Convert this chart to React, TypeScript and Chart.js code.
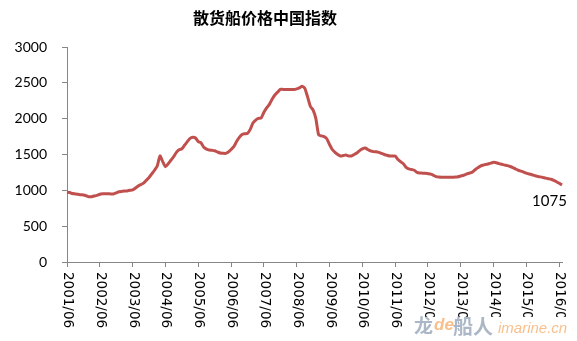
import React, { useEffect, useRef } from "react";
import { Chart, registerables } from "chart.js";

Chart.register(...registerables);

const chartTitle = "散货船价格中国指数";
const startYear = 2001;
const startMonth = 6;

// Monthly index values, 2001/06 .. 2016/07
const priceIndex = [
  975, 970, 955, 950, 945, 938, 935, 925, 910, 912, 920, 930,
  945, 952, 952, 952, 950, 950, 965, 980, 985, 990, 992, 1000,
  1005, 1030, 1060, 1080, 1100, 1140, 1180, 1230, 1280, 1340, 1480, 1400,
  1330, 1370, 1420, 1470, 1530, 1565, 1580, 1630, 1680, 1725, 1740, 1730,
  1680, 1665, 1600, 1575, 1562, 1558, 1552, 1535, 1522, 1518, 1516, 1535,
  1570, 1610, 1680, 1740, 1780, 1790, 1795, 1850, 1940, 1980, 2003, 2010,
  2090, 2150, 2200, 2270, 2330, 2370, 2410, 2408, 2406, 2406, 2406, 2406,
  2415, 2430, 2452, 2420, 2300, 2170, 2120, 2000, 1775, 1760, 1750, 1720,
  1640, 1570, 1530, 1500, 1480, 1485, 1492, 1480, 1480, 1500, 1520, 1555,
  1580, 1590, 1570, 1550, 1540, 1538, 1530, 1515, 1500, 1490, 1478, 1478,
  1478, 1430, 1399, 1370, 1320, 1298, 1290, 1280, 1250, 1242, 1240, 1238,
  1232, 1226, 1210, 1192, 1185, 1182, 1182, 1182, 1182, 1182, 1185, 1190,
  1200, 1210, 1225, 1238, 1250, 1280, 1310, 1335, 1350, 1360, 1367, 1380,
  1391, 1385, 1372, 1363, 1352, 1345, 1333, 1318, 1298, 1280, 1268, 1255,
  1240, 1228, 1218, 1205, 1195, 1188, 1180, 1170, 1162, 1155, 1140, 1120, 1098, 1075,
];

const xTickLabels = [
  "2001/06", "2002/06", "2003/06", "2004/06", "2005/06", "2006/06", "2007/06", "2008/06",
  "2009/06", "2010/06", "2011/06", "2012/06", "2013/06", "2014/06", "2015/06", "2016/06",
];

const yTicks = [0, 500, 1000, 1500, 2000, 2500, 3000];
const lastValueLabel = "1075";

const months: string[] = [];
for (let i = 0; i < priceIndex.length; i++) {
  const m = startMonth - 1 + i;
  const y = startYear + Math.floor(m / 12);
  const mm = (m % 12) + 1;
  months.push(`${y}/${mm < 10 ? "0" + mm : mm}`);
}

const AXIS = "#868686";
const LINE = "#C0504D";

const overlayPlugin = {
  id: "overlay",
  afterDraw(chart: any) {
    const ctx = chart.ctx;
    const xs = chart.scales.x;
    ctx.save();
    // title
    ctx.fillStyle = "#000";
    ctx.font = 'bold 16px "Noto Sans CJK SC"';
    ctx.textAlign = "center";
    ctx.textBaseline = "middle";
    ctx.fillText(chartTitle, 265, 18);

    // x tick labels, rotated clockwise
    ctx.font = '13.5px "DejaVu Sans"';
    xTickLabels.forEach((lab, k) => {
      const x = xs.getPixelForValue(k * 12);
      ctx.save();
      if (k >= 11) {
        ctx.beginPath();
        ctx.rect(0, 0, chart.width, 317);
        ctx.clip();
      }
      ctx.translate(x + 0.5, 272);
      ctx.rotate(Math.PI / 2);
      ctx.textAlign = "left";
      ctx.textBaseline = "middle";
      ctx.fillStyle = "#000";
      ctx.fillText(lab, 0, 0);
      ctx.restore();
    });

    // last value label
    const meta = chart.getDatasetMeta(0);
    const last = meta.data[meta.data.length - 1];
    ctx.font = '15px "Lato"';
    ctx.textAlign = "center";
    ctx.textBaseline = "middle";
    ctx.fillStyle = "#000";
    ctx.fillText(lastValueLabel, last.x - 12.5, last.y + 16.5);

    // watermark
    ctx.textAlign = "left";
    ctx.textBaseline = "middle";
    ctx.fillStyle = "rgba(150,165,185,0.8)";
    ctx.font = 'bold 19px "Noto Sans CJK SC"';
    ctx.fillText("龙", 414, 326);
    ctx.fillStyle = "rgba(247,170,100,0.75)";
    ctx.font = 'italic bold 17px "Liberation Sans"';
    ctx.fillText("de", 434, 325);
    ctx.fillStyle = "rgba(150,165,185,0.8)";
    ctx.font = 'bold 20px "Noto Sans CJK SC"';
    ctx.fillText("船人", 453, 326);
    ctx.fillStyle = "rgba(247,170,100,0.75)";
    ctx.font = 'italic 15px "Liberation Sans"';
    ctx.fillText("imarine.cn", 498, 329);
    ctx.restore();
  },
};

export default function App() {
  const ref = useRef<HTMLCanvasElement | null>(null);
  useEffect(() => {
    if (!ref.current) return;
    const chart = new Chart(ref.current, {
      type: "line",
      data: {
        labels: months,
        datasets: [
          {
            data: priceIndex,
            borderColor: LINE,
            borderWidth: 3,
            pointRadius: 0,
            tension: 0.2,
            fill: false,
          },
        ],
      },
      options: {
        responsive: false,
        animation: false,
        devicePixelRatio: 1,
        layout: { padding: { top: 47, right: 15, left: 0, bottom: 0 } },
        plugins: { legend: { display: false }, title: { display: false }, tooltip: { enabled: false } },
        scales: {
          x: {
            type: "category",
            offset: false,
            afterFit: (s: any) => {
              s.height = 79;
            },
            border: { display: true, color: AXIS, width: 1 },
            grid: {
              display: true,
              drawOnChartArea: false,
              drawTicks: true,
              tickLength: 5,
              color: (c: any) => (c.index % 12 === 0 ? AXIS : "rgba(0,0,0,0)"),
              tickColor: (c: any) => (c.index % 12 === 0 ? AXIS : "rgba(0,0,0,0)"),
            },
            ticks: { display: false, autoSkip: false },
          },
          y: {
            min: 0,
            max: 3000,
            afterFit: (s: any) => {
              s.width = 67;
            },
            afterBuildTicks: (s: any) => {
              s.ticks = yTicks.map((v) => ({ value: v }));
            },
            border: { display: true, color: AXIS, width: 1 },
            grid: { display: true, drawOnChartArea: false, drawTicks: true, tickLength: 5, color: AXIS },
            ticks: {
              padding: 15,
              color: "#000",
              font: { family: "Lato", size: 14 },
              callback: (v: any) => String(v),
            },
          },
        },
      },
      plugins: [overlayPlugin],
    });
    return () => chart.destroy();
  }, []);
  return (
    <div style={{ position: "absolute", left: 0, top: 0, width: 577, height: 341, background: "#fff" }}>
      <canvas ref={ref} width={577} height={341} style={{ display: "block" }} />
    </div>
  );
}
